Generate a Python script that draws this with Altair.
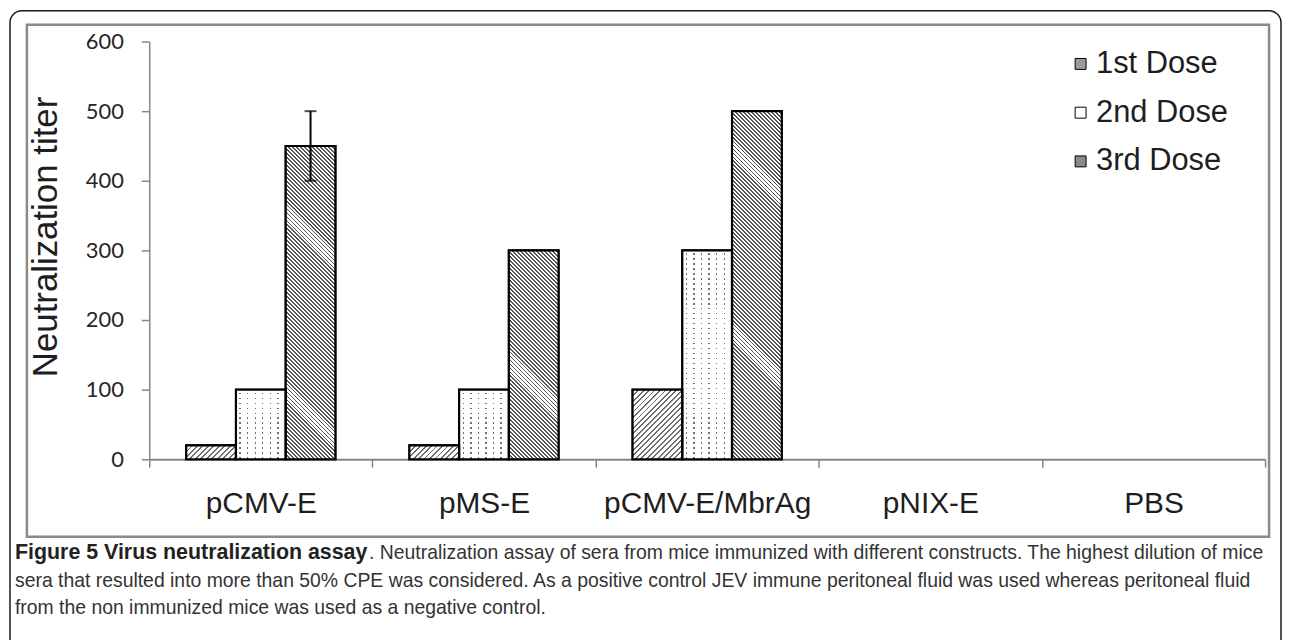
import altair as alt
import pandas as pd

# ---------------- data ----------------
categories = ["pCMV-E", "pMS-E", "pCMV-E/MbrAg", "pNIX-E", "PBS"]
doses = ["1st Dose", "2nd Dose", "3rd Dose"]
dose1 = [20, 20, 100, 0, 0]
dose2 = [100, 100, 300, 0, 0]
dose3 = [450, 300, 500, 0, 0]
err_group = ["pCMV-E"]
err_dose = ["3rd Dose"]
err_low = [400]
err_high = [500]

caption_bold = "Figure 5 Virus neutralization assay"
caption_l1 = (". Neutralization assay of sera from mice immunized with different "
              "constructs. The highest dilution of mice")
caption_l2 = ("sera that resulted into more than 50% CPE was considered. As a positive "
              "control JEV immune peritoneal fluid was used whereas peritoneal fluid")
caption_l3 = "from the non immunized mice was used as a negative control."

# ---------------- layout ----------------
W, H = 1122, 420
YMAX = 600
PO = 0.744
BAR_W = (W / len(categories)) / (len(doses) + 2 * PO)

rows = []
k = 0
for i, c in enumerate(categories):
    for j, (d, v) in enumerate(zip(doses, [dose1[i], dose2[i], dose3[i]])):
        rows.append({"group": c, "dose": d, "value": v, "k": k})
        k += 1
df = pd.DataFrame(rows)
bars_df = df[df["value"] > 0]
err_df = pd.DataFrame({"group": err_group, "dose": err_dose, "lo": err_low, "hi": err_high})


def hatch(w, h, period, dark, c_dark, c_light, kind):
    L = w + h
    stops = []
    d = 0.0
    while d < L:
        a = d / L
        b = min(d + dark, L) / L
        e = min(d + period, L) / L
        stops += [{"offset": round(a, 6), "color": c_dark},
                  {"offset": round(b, 6), "color": c_dark},
                  {"offset": round(b, 6), "color": c_light},
                  {"offset": round(e, 6), "color": c_light}]
        d += period
    s = L * w / (w * w + h * h)
    if kind == "/":
        x1, y1, x2, y2 = 0, 0, s, s * h / w
    else:
        x1, y1, x2, y2 = 0, 1, s, 1 - s * h / w
    return {"gradient": "linear", "x1": x1, "y1": y1, "x2": x2, "y2": y2, "stops": stops}


def lines(length, start, period, dark, c_dark, c_light, vertical):
    stops = [{"offset": 0, "color": c_light}]
    d = start
    while d < length:
        a = d / length
        b = min(d + dark, length) / length
        stops += [{"offset": round(a, 6), "color": c_light},
                  {"offset": round(a, 6), "color": c_dark},
                  {"offset": round(b, 6), "color": c_dark},
                  {"offset": round(b, 6), "color": c_light}]
        d += period
    stops += [{"offset": 1, "color": c_light}]
    if vertical:
        return {"gradient": "linear", "x1": 0, "y1": 0, "x2": 0, "y2": 1, "stops": stops}
    return {"gradient": "linear", "x1": 0, "y1": 0, "x2": 1, "y2": 0, "stops": stops}


pattern_conds = []
mask_conds = []
for r in bars_df.itertuples():
    h = r.value * H / YMAX
    if r.dose == "1st Dose":
        g = hatch(BAR_W, h, 5.5, 1.9, "#6e6e6e", "#ffffff", "/")
    elif r.dose == "3rd Dose":
        g = hatch(BAR_W, h, 4.0, 1.9, "#555555", "#ffffff", "\\")
    else:
        g = lines(BAR_W, 3.5, 7.6, 1.4, "#707070", "#ffffff", False)
        mask_conds.append({"test": f"datum.k == {r.k}",
                           "value": lines(h, 3.0, 5.0, 1.4, "rgba(255,255,255,0)", "#ffffff", True)})
    pattern_conds.append({"test": f"datum.k == {r.k}", "value": g})

AX_GRAY = "#868686"
x_axis = alt.Axis(title=None, labelAngle=0, tickBand="extent", tickSize=8, tickWidth=1.5,
                  tickColor=AX_GRAY, domainColor=AX_GRAY, domainWidth=2,
                  labelFont="Liberation Sans", labelFontSize=30, labelColor="#1e1e1e",
                  labelPadding=22, labelLimit=400)
y_axis = alt.Axis(values=[0, 100, 200, 300, 400, 500, 600], title="Neutralization titer",
                  titleFont="Liberation Sans", titleFontSize=35, titleFontWeight="normal",
                  titleColor="#1e1e1e", titleAngle=270, titleX=-104, titleY=196,
                  titleAlign="center", titleBaseline="middle",
                  labelFont="Lato", labelFontSize=22, labelColor="#262626", labelPadding=18,
                  tickSize=8, tickWidth=1.5, tickColor=AX_GRAY, domainColor=AX_GRAY,
                  domainWidth=1.5, grid=False)

x_enc = alt.X("group:N", scale=alt.Scale(domain=categories, paddingInner=0, paddingOuter=0),
              axis=x_axis)
xo_enc = alt.XOffset("dose:N", scale=alt.Scale(domain=doses, paddingInner=0, paddingOuter=PO))
y_scale = alt.Scale(domain=[0, YMAX], nice=False, zero=True)

base = alt.Chart(bars_df).mark_bar(stroke="black", strokeWidth=2).encode(
    x=x_enc, xOffset=xo_enc,
    y=alt.Y("value:Q", scale=y_scale, axis=y_axis),
    fill=alt.Fill("dose:N", scale=alt.Scale(domain=doses, range=["#9c9c9c", "#ffffff", "#8a8a8a"]),
                  legend=alt.Legend(title=None, orient="none", legendX=921, legendY=7,
                                    symbolType="square", symbolSize=121,
                                    symbolStrokeColor="black", symbolStrokeWidth=1,
                                    labelFont="Liberation Sans", labelFontSize=31,
                                    labelColor="#1e1e1e", labelOffset=0, rowPadding=17,
                                    padding=0)),
)

pattern = alt.Chart(bars_df).mark_bar(strokeWidth=0).encode(
    x=x_enc, xOffset=xo_enc,
    y=alt.Y("value:Q", scale=y_scale, axis=y_axis),
    fill={"condition": pattern_conds, "value": "white"},
)

mask = alt.Chart(bars_df[bars_df["dose"] == "2nd Dose"]).mark_bar(strokeWidth=0).encode(
    x=x_enc, xOffset=xo_enc,
    y=alt.Y("value:Q", scale=y_scale, axis=y_axis),
    fill={"condition": mask_conds, "value": "rgba(255,255,255,0)"},
)

outline = alt.Chart(bars_df).mark_bar(fill="transparent", stroke="black", strokeWidth=2.2).encode(
    x=x_enc, xOffset=xo_enc,
    y=alt.Y("value:Q", scale=y_scale, axis=y_axis),
)

err_rule = alt.Chart(err_df).mark_rule(color="black", strokeWidth=2).encode(
    x=x_enc, xOffset=xo_enc,
    y=alt.Y("lo:Q", scale=y_scale, axis=y_axis), y2="hi:Q",
)
err_caps = alt.Chart(err_df).transform_fold(["lo", "hi"], as_=["kind", "v"]).mark_tick(
    color="black", thickness=2, size=12).encode(
    x=x_enc, xOffset=xo_enc,
    y=alt.Y("v:Q", scale=y_scale, axis=y_axis),
)

one = alt.Data(values=[{"a": 1}])
inner_frame = alt.Chart(one).mark_rect(fill="transparent", stroke="#8a8a8a", strokeWidth=2.5).encode(
    x=alt.value(-123), x2=alt.value(1126), y=alt.value(-17), y2=alt.value(498))
outer_frame = alt.Chart(one).mark_rect(fill="transparent", stroke="#1a1a1a", strokeWidth=1.5,
                                       cornerRadius=12).encode(
    x=alt.value(-140), x2=alt.value(1138), y=alt.value(-31), y2=alt.value(660))

CAP_FONT = "Liberation Sans"
cap_b = alt.Chart(one).mark_text(text=caption_bold, font=CAP_FONT, fontSize=21.5,
                                 fontWeight="bold", align="left", baseline="alphabetic",
                                 color="#222222").encode(x=alt.value(-135), y=alt.value(520))
cap_1 = alt.Chart(one).mark_text(text=caption_l1, font=CAP_FONT, fontSize=19.5,
                                 align="left", baseline="alphabetic",
                                 color="#333333").encode(x=alt.value(221), y=alt.value(520))
cap_2 = alt.Chart(one).mark_text(text=caption_l2, font=CAP_FONT, fontSize=19.5,
                                 align="left", baseline="alphabetic",
                                 color="#333333").encode(x=alt.value(-135), y=alt.value(548))
cap_3 = alt.Chart(one).mark_text(text=caption_l3, font=CAP_FONT, fontSize=19.5,
                                 align="left", baseline="alphabetic",
                                 color="#333333").encode(x=alt.value(-135), y=alt.value(576))

chart = alt.layer(
    outer_frame, inner_frame, base, pattern, mask, outline, err_rule, err_caps,
    cap_b, cap_1, cap_2, cap_3,
).properties(
    width=W, height=H,
    padding={"left": 142, "top": 32, "right": 17, "bottom": 180},
    autosize=alt.AutoSizeParams(type="none"),
    background="white",
).configure_view(stroke=None)

chart.save("out.html", embed_options={"renderer": "svg", "actions": False})
